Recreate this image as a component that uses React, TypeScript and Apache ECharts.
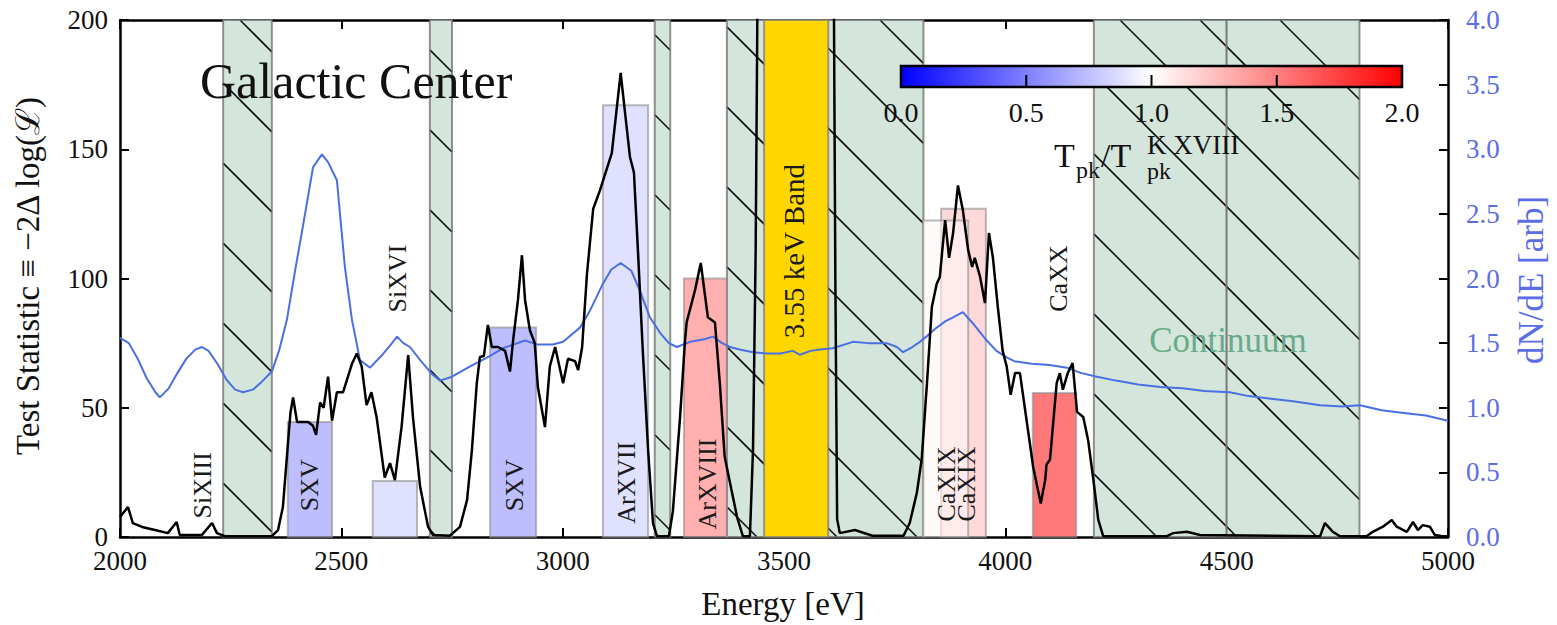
import React, { useEffect, useRef } from "react";
import * as echarts from "echarts";

const FONT = '"Liberation Serif", "Times New Roman", serif';

// Test statistic curve (Energy eV, TS)
const testStatistic: [number, number][] = [
  [2000, 7.7], [2018, 11.6], [2029, 5.4], [2050, 3.9], [2079, 2.7], [2108, 1.5], [2128, 5.8], [2135, 0.8],
  [2185, 0.8], [2208, 5.4], [2219, 1.5], [2237, 0.3], [2343, 0.3], [2357, 2.7], [2368, 11.6], [2377, 31],
  [2385, 48], [2391, 54], [2400, 44.5], [2425, 44.5], [2436, 43], [2443, 39.5], [2452, 52], [2460, 50],
  [2470, 62], [2479, 45], [2490, 56], [2504, 56], [2515, 62], [2524, 67], [2535, 71], [2546, 66],
  [2557, 51], [2568, 56], [2580, 46], [2598, 23], [2610, 28.6], [2621, 22], [2636, 42.5], [2651, 70.4],
  [2662, 46], [2678, 19.4], [2696, 3.9], [2707, 0.8], [2745, 0.5], [2768, 3.9], [2784, 14.3], [2795, 33.7],
  [2806, 59.5], [2813, 69.6], [2822, 70], [2831, 82], [2840, 73.5], [2854, 73.5], [2870, 72], [2881, 64],
  [2888, 76], [2899, 91.7], [2908, 109], [2915, 91.7], [2926, 80], [2937, 75], [2944, 58], [2960, 42.5],
  [2971, 66], [2983, 73.5], [3001, 59.5], [3012, 69], [3028, 68], [3035, 64.6], [3044, 73.5], [3055, 102],
  [3069, 127], [3084, 134], [3111, 148.5], [3131, 179.5], [3152, 147], [3161, 141], [3170, 111], [3181, 72],
  [3193, 33.7], [3204, 5.4], [3213, 0.3], [3240, 0.3], [3249, 10], [3265, 46], [3276, 75], [3280, 83],
  [3299, 95.5], [3312, 106], [3328, 85], [3344, 83], [3355, 59.5], [3366, 31], [3378, 21], [3394, 7.7],
  [3407, 0.3], [3423, 0.3], [3430, 33.7], [3436, 111], [3441, 230], [3612, 230], [3616, 100], [3620, 7],
  [3626, 1.5], [3660, 2.7], [3700, 0.5], [3770, 0.5], [3784, 5.4], [3800, 17], [3811, 30], [3823, 59.5],
  [3834, 89], [3845, 98], [3852, 100.6], [3864, 122.6], [3873, 108], [3882, 117.6], [3893, 136], [3904, 126.5],
  [3916, 111], [3925, 104.5], [3931, 108], [3943, 100.6], [3954, 90.5], [3963, 117.6], [3972, 108], [3983, 89],
  [3994, 72], [4003, 66], [4012, 55], [4022, 63.4], [4033, 63.4], [4044, 50], [4063, 27], [4080, 13],
  [4090, 22], [4093, 28], [4101, 30], [4108, 44], [4116, 59.5], [4123, 63.4], [4130, 57], [4141, 63.4],
  [4152, 67.3], [4162, 48.4], [4176, 46.4], [4187, 37.5], [4199, 22], [4210, 6.6], [4221, 0.3], [4365, 0.3],
  [4379, 1.5], [4410, 2], [4440, 0.8], [4711, 0.3], [4722, 5.4], [4740, 2], [4756, 0.3], [4816, 0.3],
  [4830, 2], [4853, 4], [4873, 6.6], [4884, 4], [4907, 2], [4921, 5.8], [4932, 2.7], [4943, 4.6],
  [4959, 4], [4970, 0.8], [4988, 0.3], [5000, 0.3],
];

// Continuum spectrum dN/dE (Energy eV, arb)
const continuum: [number, number][] = [
  [2000, 1.54], [2020, 1.5], [2040, 1.38], [2060, 1.23], [2080, 1.12], [2090, 1.08], [2110, 1.15], [2130, 1.27],
  [2150, 1.38], [2170, 1.45], [2185, 1.47], [2200, 1.44], [2220, 1.34], [2240, 1.22], [2260, 1.14], [2278, 1.12],
  [2300, 1.14], [2320, 1.2], [2343, 1.28], [2360, 1.45], [2377, 1.68], [2395, 2.05], [2413, 2.4], [2436, 2.86],
  [2456, 2.96], [2470, 2.9], [2490, 2.76], [2508, 2.09], [2524, 1.68], [2542, 1.37], [2565, 1.31], [2590, 1.4],
  [2610, 1.48], [2626, 1.55], [2640, 1.5], [2655, 1.47], [2680, 1.36], [2705, 1.26], [2723, 1.21], [2750, 1.24],
  [2791, 1.32], [2830, 1.39], [2865, 1.46], [2915, 1.52], [2942, 1.49], [2978, 1.49], [3001, 1.51], [3039, 1.62],
  [3060, 1.74], [3091, 1.96], [3110, 2.07], [3131, 2.12], [3155, 2.06], [3174, 1.91], [3197, 1.7], [3220, 1.58],
  [3240, 1.5], [3258, 1.47], [3288, 1.51], [3320, 1.53], [3340, 1.55], [3360, 1.5], [3378, 1.47], [3400, 1.45],
  [3430, 1.43], [3460, 1.42], [3491, 1.42], [3520, 1.44], [3536, 1.41], [3560, 1.44], [3581, 1.45], [3610, 1.46],
  [3656, 1.51], [3690, 1.5], [3732, 1.5], [3755, 1.47], [3769, 1.43], [3790, 1.47], [3807, 1.51], [3825, 1.56],
  [3845, 1.62], [3865, 1.67], [3882, 1.7], [3904, 1.74], [3930, 1.64], [3958, 1.52], [3980, 1.44], [4003, 1.39],
  [4020, 1.36], [4060, 1.34], [4100, 1.33], [4139, 1.31], [4170, 1.27], [4207, 1.24], [4250, 1.21], [4300, 1.18],
  [4350, 1.16], [4400, 1.15], [4450, 1.13], [4507, 1.12], [4550, 1.09], [4600, 1.07], [4650, 1.05], [4711, 1.02],
  [4760, 1.01], [4801, 1.02], [4850, 0.98], [4900, 0.96], [4950, 0.94], [5000, 0.9],
];

// Masked (continuum-dominated) energy windows [lo, hi] in eV
const maskedBands: [number, number][] = [
  [2233, 2343], [2700, 2750], [3208, 3243], [3371, 3815], [4200, 4500], [4500, 4800],
];
const signalBand: [number, number][] = [[3455, 3600]];

// Line windows: lo, hi (eV), TS height, Tpk ratio
const lineLo = [2379, 2571, 2836, 3091, 3274, 3855, 3814, 4062];
const lineHi = [2479, 2671, 2940, 3193, 3371, 3956, 3916, 4160];
const lineTS = [44.5, 21.7, 81, 167, 100, 127, 122.4, 55.7];
const lineRatio = [0.575, 0.8, 0.575, 0.8, 1.52, 1.25, 1.03, 1.88];

// Line labels: text, energy, TS position
const labelText = ["SiXIII", "SXV", "SiXVI", "SXV", "ArXVII", "ArXVIII", "CaXIX", "CaXIX", "CaXX"];
const labelE = [2187, 2429, 2626, 2892, 3145, 3328, 3868, 3913, 4119];
const labelTS = [20, 20, 100, 20, 21, 20.5, 20.5, 20.5, 100];
const bandLabel = { text: "3.55 keV Band", e: 3522, ts: 110.6 };

const colorbarTicks = [0, 0.5, 1, 1.5, 2];

function bwr(ratio: number, alpha: number) {
  const t = Math.max(0, Math.min(1, ratio / 2));
  let r: number, g: number, b: number;
  if (t < 0.5) {
    const s = t / 0.5;
    r = s; g = s; b = 1;
  } else {
    const s = (t - 0.5) / 0.5;
    r = 1; g = 1 - s; b = 1 - s;
  }
  return `rgba(${Math.round(r * 255)},${Math.round(g * 255)},${Math.round(b * 255)},${alpha})`;
}

export default function App() {
  const ref = useRef<HTMLDivElement>(null);
  useEffect(() => {
    document.body.style.margin = "0";
    document.body.style.overflow = "hidden";
    if (!ref.current) return;
    const chart = echarts.init(ref.current, undefined, { renderer: "svg" });

    const cbX0 = 901, cbX1 = 1402, cbY0 = 66, cbY1 = 87;
    const cbGraphics: any[] = [
      {
        type: "rect",
        shape: { x: cbX0, y: cbY0, width: cbX1 - cbX0, height: cbY1 - cbY0 },
        style: {
          fill: {
            type: "linear", x: 0, y: 0, x2: 1, y2: 0,
            colorStops: [
              { offset: 0, color: "#0000ff" },
              { offset: 0.5, color: "#ffffff" },
              { offset: 1, color: "#ff0000" },
            ],
          },
          stroke: "#000", lineWidth: 2.5,
        },
        z: 100,
      },
    ];
    colorbarTicks.forEach((v) => {
      const x = cbX0 + ((cbX1 - cbX0) * v) / 2;
      if (v > 0 && v < 2) {
        cbGraphics.push({
          type: "line", shape: { x1: x, y1: cbY1, x2: x, y2: cbY1 - 12 },
          style: { stroke: "#000", lineWidth: 2 }, z: 101,
        });
      }
      cbGraphics.push({
        type: "text", x, y: 112, z: 101,
        style: { text: v.toFixed(1), fontSize: 28, fontFamily: FONT, fill: "#111", align: "center", verticalAlign: "middle" },
      });
    });
    const titleParts = [
      { t: "T", x: 1054, y: 155, fs: 34 },
      { t: "pk", x: 1076, y: 170, fs: 24 },
      { t: "/T", x: 1101, y: 155, fs: 34 },
      { t: "K XVIII", x: 1147, y: 145, fs: 27 },
      { t: "pk", x: 1147, y: 171, fs: 24 },
    ];
    titleParts.forEach((p) =>
      cbGraphics.push({
        type: "text", x: p.x, y: p.y, z: 101,
        style: { text: p.t, fontSize: p.fs, fontFamily: FONT, fill: "#111", align: "left", verticalAlign: "middle" },
      })
    );

    const option: any = {
      animation: false,
      backgroundColor: "#fff",
      grid: { left: 120, right: 109, top: 20, bottom: 88 },
      xAxis: [
        {
          type: "value", min: 2000, max: 5000, interval: 500,
          axisLine: { show: true, onZero: false, lineStyle: { color: "#000", width: 2.5 } },
          axisTick: { inside: true, length: 9, lineStyle: { color: "#000", width: 2 } },
          axisLabel: { fontSize: 27, lineHeight: 22, fontFamily: FONT, color: "#111", margin: 13, formatter: (v: number) => String(v) },
          splitLine: { show: false },
        },
        {
          type: "value", min: 2000, max: 5000, interval: 500, position: "top",
          axisLine: { show: true, onZero: false, lineStyle: { color: "#000", width: 2.5 } },
          axisTick: { inside: true, length: 9, lineStyle: { color: "#000", width: 2 } },
          axisLabel: { show: false },
          splitLine: { show: false },
        },
      ],
      yAxis: [
        {
          type: "value", min: 0, max: 200, interval: 50,
          axisLine: { show: true, onZero: false, lineStyle: { color: "#000", width: 2.5 } },
          axisTick: { inside: true, length: 9, lineStyle: { color: "#000", width: 2 } },
          axisLabel: { fontSize: 27, lineHeight: 20, fontFamily: FONT, color: "#111", margin: 12 },
          splitLine: { show: false },
        },
        {
          type: "value", min: 0, max: 4, interval: 0.5, position: "right",
          axisLine: { show: true, onZero: false, lineStyle: { color: "#000", width: 2.5 } },
          axisTick: { inside: true, length: 9, lineStyle: { color: "#000", width: 2 } },
          axisLabel: { fontSize: 27, lineHeight: 20, fontFamily: FONT, color: "#5b6ee6", margin: 18, formatter: (v: number) => v.toFixed(1) },
          splitLine: { show: false },
        },
      ],
      series: [
        {
          type: "custom", name: "masked", z: 1, data: maskedBands,
          renderItem: (params: any, api: any) => {
            const a = api.coord([api.value(0), 200]);
            const b = api.coord([api.value(1), 0]);
            const x0 = a[0], y0 = a[1], x1 = b[0], y1 = b[1];
            const children: any[] = [
              { type: "rect", shape: { x: x0, y: y0, width: x1 - x0, height: y1 - y0 }, style: { fill: "#d4e6dc" } },
            ];
            const step = 80, off = 20;
            let c = off + step * Math.ceil((y0 - x1 - off) / step);
            for (; c <= y1 - x0; c += step) {
              const lo = Math.max(x0, y0 - c);
              const hi = Math.min(x1, y1 - c);
              if (hi > lo) {
                children.push({
                  type: "line", shape: { x1: lo, y1: lo + c, x2: hi, y2: hi + c },
                  style: { stroke: "#111", lineWidth: 1.6 },
                });
              }
            }
            children.push({
              type: "rect", shape: { x: x0, y: y0, width: x1 - x0, height: y1 - y0 },
              style: { fill: "none", stroke: "rgba(110,110,110,0.75)", lineWidth: 2 },
            });
            return { type: "group", children };
          },
        },
        {
          type: "custom", name: "lines", z: 2,
          data: lineLo.map((lo, i) => [lo, lineHi[i], lineTS[i], lineRatio[i]]),
          renderItem: (params: any, api: any) => {
            const a = api.coord([api.value(0), api.value(2)]);
            const b = api.coord([api.value(1), 0]);
            return {
              type: "rect",
              shape: { x: a[0], y: a[1], width: b[0] - a[0], height: b[1] - a[1] },
              style: { fill: bwr(api.value(3), 0.6), stroke: "rgba(140,140,140,0.6)", lineWidth: 2 },
            };
          },
        },
        {
          type: "custom", name: "signal", z: 3, data: signalBand,
          renderItem: (params: any, api: any) => {
            const a = api.coord([api.value(0), 200]);
            const b = api.coord([api.value(1), 0]);
            return {
              type: "rect",
              shape: { x: a[0], y: a[1], width: b[0] - a[0], height: b[1] - a[1] },
              style: { fill: "#ffd700", stroke: "rgba(120,120,120,0.7)", lineWidth: 2 },
            };
          },
        },
        {
          type: "line", name: "dN/dE", yAxisIndex: 1, z: 4, data: continuum, showSymbol: false,
          lineStyle: { color: "#4a6fe3", width: 2 }, itemStyle: { color: "#4a6fe3" },
        },
        {
          type: "line", name: "TS", yAxisIndex: 0, z: 5, data: testStatistic, showSymbol: false, clip: true,
          lineStyle: { color: "#000", width: 2.5 }, itemStyle: { color: "#000" },
        },
        {
          type: "custom", name: "labels", z: 6,
          data: labelE.map((e, i) => [e, labelTS[i]]),
          renderItem: (params: any, api: any) => {
            const p = api.coord([api.value(0), api.value(1)]);
            return {
              type: "text", x: p[0], y: p[1], rotation: Math.PI / 2,
              style: { text: labelText[params.dataIndex], fontSize: 26, fontFamily: FONT, fill: "#1a1a1a", align: "center", verticalAlign: "middle" },
            };
          },
        },
        {
          type: "custom", name: "bandLabel", z: 6,
          data: [[bandLabel.e, bandLabel.ts]],
          renderItem: (params: any, api: any) => {
            const p = api.coord([api.value(0), api.value(1)]);
            return {
              type: "text", x: p[0], y: p[1], rotation: Math.PI / 2,
              style: { text: bandLabel.text, fontSize: 29, fontFamily: FONT, fill: "#1a1a1a", align: "center", verticalAlign: "middle" },
            };
          },
        },
      ],
      graphic: [
        {
          type: "text", x: 200, y: 81, z: 100,
          style: { text: "Galactic Center", fontSize: 50, fontFamily: FONT, fill: "#111", align: "left", verticalAlign: "middle" },
        },
        {
          type: "text", x: 1228, y: 340, z: 100,
          style: { text: "Continuum", fontSize: 35, fontFamily: FONT, fill: "#6aaa8a", align: "center", verticalAlign: "middle" },
        },
        {
          type: "text", x: 783, y: 604, z: 100,
          style: { text: "Energy [eV]", fontSize: 33, fontFamily: FONT, fill: "#111", align: "center", verticalAlign: "middle" },
        },
        {
          type: "text", x: 28, y: 276, rotation: Math.PI / 2, z: 100,
          style: { text: "Test Statistic \u2261 \u22122\u0394 log(\u2112)", fontSize: 33, fontFamily: FONT, fill: "#111", align: "center", verticalAlign: "middle" },
        },
        {
          type: "text", x: 1531, y: 280, rotation: Math.PI / 2, z: 100,
          style: { text: "dN/dE [arb]", fontSize: 35, fontFamily: FONT, fill: "#5b6ee6", align: "center", verticalAlign: "middle" },
        },
        ...cbGraphics,
      ],
    };
    chart.setOption(option);
    return () => chart.dispose();
  }, []);
  return <div ref={ref} style={{ width: 1557, height: 625 }} />;
}
